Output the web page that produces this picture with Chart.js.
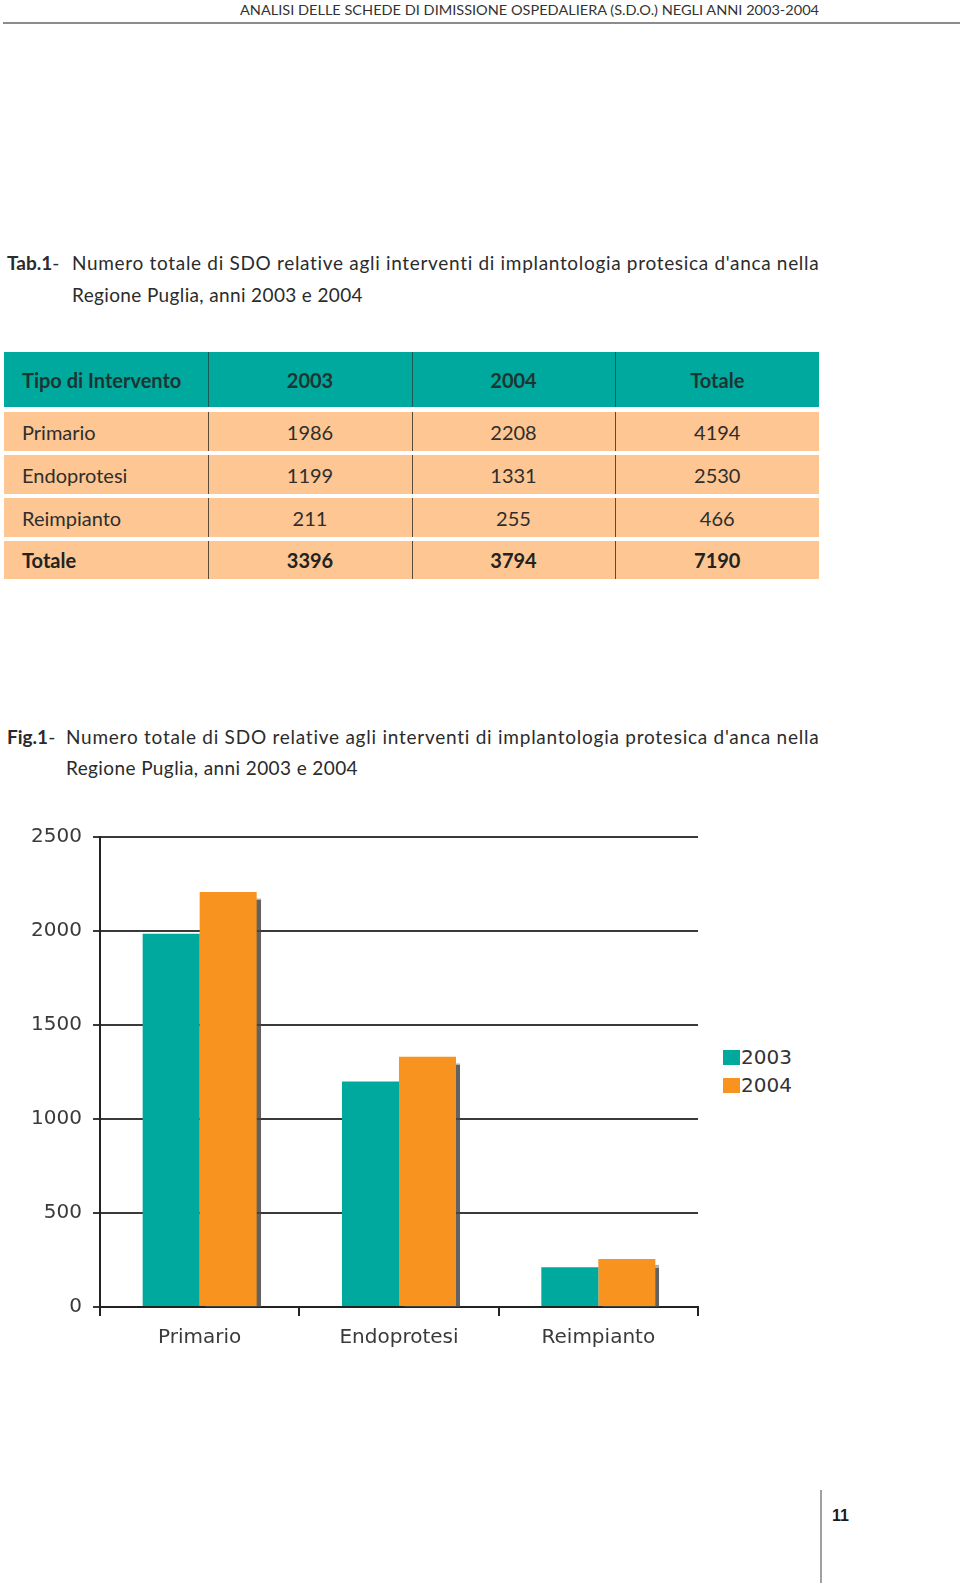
<!DOCTYPE html>
<html>
<head>
<meta charset="utf-8">
<script src="https://cdn.jsdelivr.net/npm/chart.js@4.4.1/dist/chart.umd.min.js"></script>
<style>
body{margin:0;background:#fff;width:960px;height:1583px;position:relative;overflow:hidden;font-family:Lato,sans-serif;color:#2b2b2b}
.abs{position:absolute;white-space:nowrap}
#runhead{left:240px;top:0;font-size:14px;line-height:20px;color:#333;transform-origin:left center}
#headline{position:absolute;left:3px;top:22px;width:957px;height:2px;background:#8c8c8c}
.cap{font-size:19px;line-height:32px;color:#2b2b2b}
.cap b{font-weight:700}
#tbl{position:absolute;left:4px;top:352px;border-collapse:collapse;table-layout:fixed;font-size:20px}
#tbl td{padding:0;text-align:center;border-bottom:4px solid #fff;background:#fdc692;color:#2e2e2e}
#tbl td+td{border-left:1px solid #5a4a3a}
#tbl td:first-child{text-align:left;padding-left:18px}
#tbl tr.head td{background:#00a99d;height:55px;border-bottom-width:5px;font-weight:700;color:#1c3533}
#tbl tr.head td+td{border-left-color:#1d5a55}
#tbl tr.body td{height:39px}
#tbl tr.tot td{height:38px;font-weight:700;border-bottom:0;color:#222}
#chartBox{position:absolute;left:0;top:800px;width:720px;height:560px}
#legend{position:absolute;left:723px;top:1043px;font-family:'DejaVu Sans';font-size:20px;color:#333}
#legend div{height:28px;line-height:24px;display:flex;align-items:center}
#legend span.sw{display:inline-block;width:17px;height:15px;margin-right:1px}
#pageline{position:absolute;left:820px;top:1490px;width:2px;height:93px;background:#a0a0a0}
#pagenum{left:832px;top:1506px;font-family:'Liberation Sans';font-weight:700;font-size:16px;line-height:20px;color:#1a1a1a}
</style>
</head>
<body>
<div id="runhead" class="abs">ANALISI DELLE SCHEDE DI DIMISSIONE OSPEDALIERA (S.D.O.) NEGLI ANNI 2003-2004</div>
<div id="headline"></div>

<div class="abs cap" style="left:7px;top:247px"><b>Tab.1</b>-</div>
<div id="t1a" class="abs cap" style="left:72px;top:247px">Numero totale di SDO relative agli interventi di implantologia protesica d'anca nella</div>
<div id="t1b" class="abs cap" style="left:72px;top:279px">Regione Puglia, anni 2003 e 2004</div>

<table id="tbl"><colgroup><col style="width:204px"><col style="width:204px"><col style="width:203px"><col style="width:204px"></colgroup><tbody id="rows"></tbody></table>

<div class="abs cap" style="left:7px;top:721px"><b>Fig.1</b>-</div>
<div id="f1a" class="abs cap" style="left:66px;top:721px">Numero totale di SDO relative agli interventi di implantologia protesica d'anca nella</div>
<div id="f1b" class="abs cap" style="left:66px;top:752px">Regione Puglia, anni 2003 e 2004</div>

<div id="chartBox"><canvas id="chart" width="720" height="560"></canvas></div>
<div id="legend"></div>

<div id="pageline"></div>
<div id="pagenum" class="abs">11</div>

<script>
const categories = ['Primario', 'Endoprotesi', 'Reimpianto'];
const years = ['2003', '2004'];
const values2003 = [1986, 1199, 211];
const values2004 = [2208, 1331, 255];
const rowTotals = [4194, 2530, 466];
const yearTotals = [3396, 3794, 7190];
const yTicks = [0, 500, 1000, 1500, 2000, 2500];
const colors = ['#00a99d', '#f7931e'];

// table
function buildTable(){
  const tbody = document.getElementById('rows');
  function tr(cls, cells){
    const r = document.createElement('tr'); r.className = cls;
    cells.forEach(v=>{ const td = document.createElement('td'); td.textContent = v; r.appendChild(td); });
    tbody.appendChild(r);
  }
  tr('head', ['Tipo di Intervento', years[0], years[1], 'Totale']);
  categories.forEach((c,i)=> tr('body', [c, values2003[i], values2004[i], rowTotals[i]]));
  tr('tot', ['Totale', yearTotals[0], yearTotals[1], yearTotals[2]]);
}

// squeeze caption lines to the printed width
function fitSpacing(id, w){
  const el = document.getElementById(id);
  const diff = w - el.getBoundingClientRect().width;
  el.style.letterSpacing = (diff / el.textContent.length) + 'px';
}
function fitScale(id, w){
  const el = document.getElementById(id);
  el.style.transform = 'scaleX(' + (w / el.getBoundingClientRect().width) + ')';
}

function buildLegend(){
  const lg = document.getElementById('legend');
  years.forEach((y,i)=>{
    const d = document.createElement('div');
    d.innerHTML = '<span class="sw" style="background:' + colors[i] + '"></span>' + y;
    lg.appendChild(d);
  });
}

// grey drop shadow on the 2004 bars
const barShadow = {
  id: 'barShadow',
  beforeDatasetDraw(chart, args){
    if(args.index !== 1) return;
    const c = chart.ctx; c.save();
    c.shadowColor = 'rgba(70,70,70,0.85)';
    c.shadowOffsetX = 4; c.shadowOffsetY = 6; c.shadowBlur = 1;
  },
  afterDatasetDraw(chart, args){ if(args.index === 1) chart.ctx.restore(); }
};

function drawChart(){
  const tickFont = { family: 'DejaVu Sans', size: 20 };
  new Chart(document.getElementById('chart').getContext('2d'), {
    type: 'bar',
    data: { labels: categories, datasets: [
      { label: years[0], data: values2003, backgroundColor: colors[0], categoryPercentage: 0.572, barPercentage: 1, clip: 0 },
      { label: years[1], data: values2004, backgroundColor: colors[1], categoryPercentage: 0.572, barPercentage: 1, clip: 0 }
    ]},
    options: {
      responsive: false, animation: false,
      layout: { padding: { top: 37, right: 22, left: 0, bottom: 0 } },
      plugins: { legend: { display: false }, tooltip: { enabled: false } },
      scales: {
        x: {
          grid: { drawOnChartArea: false, color: '#222', lineWidth: 2, tickLength: 9 },
          border: { color: '#222', width: 2 },
          ticks: { color: '#3a3a3a', font: tickFont, padding: 10 },
          afterFit(s){ s.height = 53; }
        },
        y: {
          min: 0, max: 2500,
          afterBuildTicks(s){ s.ticks = yTicks.map(v=>({ value: v })); },
          grid: { color: '#3a3a3a', lineWidth: 2, tickLength: 7 },
          border: { color: '#222', width: 2 },
          ticks: { color: '#3a3a3a', font: tickFont, padding: 11, callback: v=> String(v) },
          afterFit(s){ s.width = 100; }
        }
      }
    },
    plugins: [barShadow]
  });
}

buildTable();
buildLegend();
fitScale('runhead', 579);
fitSpacing('t1a', 748);
fitSpacing('t1b', 291);
fitSpacing('f1a', 754);
fitSpacing('f1b', 292);
drawChart();
</script>
</body>
</html>
